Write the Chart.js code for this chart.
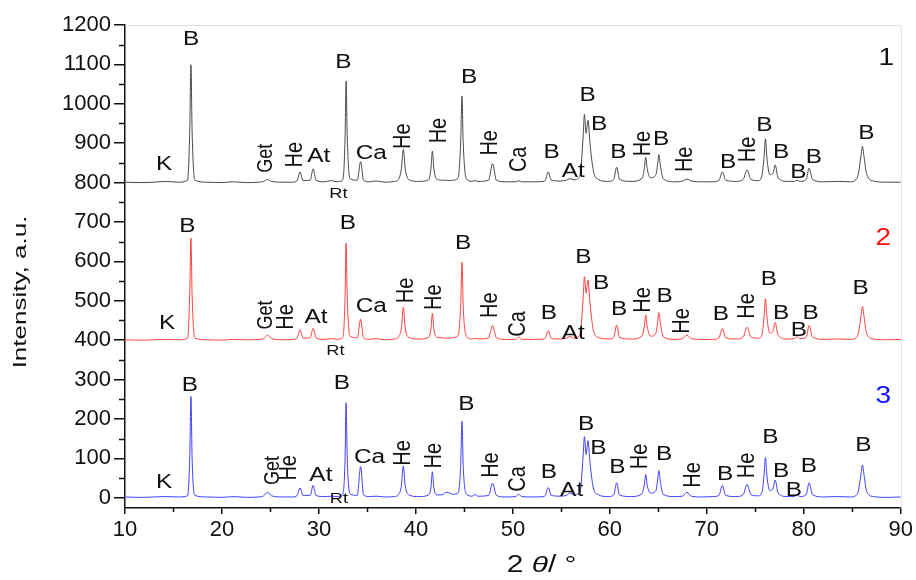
<!DOCTYPE html>
<html>
<head>
<meta charset="utf-8">
<script src="https://cdn.jsdelivr.net/npm/chart.js@4.4.1/dist/chart.umd.min.js"></script>
<style>
  html, body { margin: 0; padding: 0; background: #fff; }
  #wrap { width: 916px; height: 580px; position: relative; }
</style>
</head>
<body>
<div id="wrap"><canvas id="c" width="916" height="580"></canvas></div>
<script>
// ---- DATA ----
// 2θ sampling positions (degrees)
const theta = [
  10, 11.5, 13, 14.2, 15.5,
  16.45, 16.68, 16.8, 16.92, 17.2,
  18.5, 20, 21.2, 22.5, 23.8,
  24.3, 24.7, 25.1, 26.3, 27.3,
  27.75, 28.05, 28.35, 29.1, 29.4, 29.7,
  30.5, 31.3, 31.9, 32.3,
  32.5, 32.7, 32.8, 32.92, 33.2,
  33.95, 34.3, 34.6, 35.2, 35.9, 36.8, 37.8,
  38.2, 38.5, 38.7, 38.9, 39.3, 40.3,
  41.3, 41.55, 41.7, 41.85, 42.2,
  42.8, 43.1, 43.5, 43.8,
  44.35, 44.62, 44.75, 44.88, 45.2,
  45.8, 46.1, 46.4, 47.5, 47.9, 48.3,
  49.2, 50.3, 50.6, 50.9, 52.0, 53.2,
  53.35, 53.65, 53.95, 54.9, 55.5, 55.9, 56.3, 56.8,
  57.0, 57.25, 57.38, 57.55, 57.75, 57.95, 58.3, 58.8,
  59.8, 60.4, 60.7, 61.0, 62.2,
  63.3, 63.55, 63.7, 63.85, 64.2,
  64.75, 64.92, 65.05, 65.2, 65.5,
  66.6, 67.5, 67.95, 68.4, 69.5, 70.6,
  71.25, 71.6, 71.95, 73.0, 73.75, 74.15, 74.55,
  75.3, 75.7, 75.9, 76.05, 76.2, 76.5,
  76.85, 77.05, 77.35, 78.3,
  79.05, 79.3, 79.6, 80.25, 80.55, 80.9,
  82.0, 83.5, 84.8, 85.4,
  85.65, 85.9, 86.05, 86.2, 86.5, 87.2, 88.5, 90
];
// Sample 1 (offset +800)
const intensity1 = [
  801, 800, 801, 803, 801,
  806, 935, 1099, 930, 806,
  801, 800, 802, 800, 801,
  803, 808, 803, 801, 801,
  805, 827, 805, 806, 835, 806,
  802, 805, 802, 804,
  812, 920, 1058, 915, 810,
  806, 853, 806, 802, 804, 801, 803,
  808, 835, 884, 835, 807, 803,
  807, 835, 880, 835, 808,
  806, 806, 805, 806,
  812, 905, 1020, 900, 810,
  803, 805, 803, 806, 848, 806,
  802, 802, 805, 802, 802, 803,
  806, 827, 806, 804, 806, 810, 807, 812,
  830, 920, 973, 925, 958, 900, 830, 808,
  803, 808, 839, 808, 803,
  810, 835, 864, 835, 812,
  820, 845, 871, 845, 810,
  802, 804, 809, 804, 802, 802,
  806, 827, 806, 803, 808, 832, 808,
  805, 820, 865, 911, 862, 820,
  825, 845, 812, 803,
  803, 806, 803, 808, 837, 808,
  802, 803, 802, 808,
  825, 868, 892, 868, 820, 804, 801, 801
];
// Sample 2 (offset +400)
const intensity2 = [
  401, 400, 401, 402, 401,
  405, 520, 659, 515, 405,
  401, 400, 402, 401, 402,
  404, 413, 404, 401, 402,
  406, 427, 405, 406, 430, 406,
  402, 404, 402, 404,
  412, 515, 646, 510, 410,
  406, 453, 406, 402, 404, 401, 403,
  408, 430, 483, 430, 407, 403,
  407, 428, 468, 428, 407,
  406, 405, 405, 407,
  412, 490, 598, 485, 410,
  403, 405, 403, 406, 437, 406,
  402, 402, 408, 402, 402, 403,
  405, 424, 405, 403, 405, 409, 405, 410,
  425, 510, 561, 520, 552, 495, 425, 407,
  403, 407, 438, 407, 403,
  410, 435, 464, 435, 410,
  418, 445, 470, 445, 409,
  402, 404, 413, 404, 402, 402,
  406, 430, 406, 403, 408, 433, 408,
  405, 415, 460, 505, 458, 418,
  425, 445, 412, 403,
  404, 409, 404, 408, 437, 408,
  402, 403, 402, 406,
  420, 462, 486, 462, 415, 403, 401, 402
];
// Sample 3 (no offset)
const intensity3 = [
  2, 1, 2, 3, 2,
  5, 105, 257, 100, 6,
  2, 1, 3, 1, 2,
  5, 14, 5, 2, 2,
  6, 25, 6, 6, 31, 6,
  3, 4, 3, 5,
  12, 105, 241, 100, 10,
  6, 79, 7, 3, 4, 2, 3,
  8, 30, 81, 30, 7, 3,
  7, 26, 66, 26, 7,
  8, 14, 12, 9,
  12, 85, 194, 80, 10,
  4, 8, 4, 6, 37, 6,
  2, 3, 9, 3, 2, 3,
  6, 26, 6, 4, 6, 12, 8, 10,
  25, 110, 155, 110, 145, 90, 25, 8,
  3, 7, 38, 7, 3,
  10, 32, 59, 32, 12,
  18, 45, 69, 42, 9,
  3, 4, 14, 4, 2, 3,
  6, 31, 6, 3, 8, 34, 8,
  5, 15, 58, 102, 55, 18,
  25, 45, 12, 3,
  3, 8, 3, 8, 38, 8,
  2, 3, 2, 6,
  20, 60, 83, 60, 15, 3, 1, 2
];
const xTickValues = [10, 20, 30, 40, 50, 60, 70, 80, 90];
const yTickValues = [0, 100, 200, 300, 400, 500, 600, 700, 800, 900, 1000, 1100, 1200];
const xTitle = ['2 ', 'θ', '/ °'];
const yTitle = 'Intensity, a.u.';
const sampleNames = ['1', '2', '3'];

// Phase annotations: [text, 2θ, intensity, rotated]
const phases1 = [
  ['K',14.03,846,0],['B',16.82,1164,0],['Get',24.5,862,1],['He',27.57,871,1],['At',29.98,867,0],
  ['B',32.53,1105,0],['Rt',32.0,772,0],['Ca',35.4,874,0],['He',38.66,918,1],['He',42.45,932,1],
  ['B',45.48,1067,0],['He',47.62,901,1],['Ca',50.65,859,1],['B',54.0,876,0],['At',56.23,827,0],
  ['B',57.72,1020,0],['B',58.9,948,0],['B',60.89,877,0],['He',63.4,899,1],['B',65.3,910,0],
  ['He',67.78,859,1],['B',72.19,852,0],['He',74.32,884,1],['B',75.94,945,0],['B',77.66,876,0],
  ['B',79.43,825,0],['B',81.04,863,0],['B',86.45,925,0]
];
const phases2 = [
  ['K',14.34,443,0],['B',16.44,689,0],['Get',24.54,464,1],['He',26.6,459,1],['At',29.7,458,0],
  ['B',32.98,696,0],['Rt',31.7,373,0],['Ca',35.4,485,0],['He',39.0,526,1],['He',41.94,509,1],
  ['B',44.87,646,0],['He',47.62,489,1],['Ca',50.55,441,1],['B',53.72,468,0],['At',56.23,417,0],
  ['B',57.27,611,0],['B',59.1,544,0],['B',60.96,478,0],['He',63.4,502,1],['B',65.64,510,0],
  ['He',67.44,449,1],['B',71.46,464,0],['He',74.15,487,1],['B',76.4,555,0],['B',77.66,468,0],
  ['B',79.5,425,0],['B',80.7,468,0],['B',85.87,532,0]
];
const phases3 = [
  ['K',14.03,38,0],['B',16.69,285,0],['Get',25.23,69,1],['He',26.95,76,1],['At',30.2,56,0],
  ['B',32.36,291,0],['Rt',32.05,-2,0],['Ca',35.22,101,0],['He',38.66,114,1],['He',41.94,107,1],
  ['B',45.2,236,0],['He',47.73,83,1],['Ca',50.55,48,1],['B',53.72,63,0],['At',56.06,18,0],
  ['B',57.55,186,0],['B',58.82,126,0],['B',60.78,77,0],['He',63.13,105,1],['B',65.6,109,0],
  ['He',68.57,58,1],['B',71.9,58,0],['He',74.22,82,1],['B',76.56,152,0],['B',77.66,66,0],
  ['B',78.97,18,0],['B',80.52,79,0],['B',86.14,132,0]
];
// Sample number label anchors: [2θ, intensity]
const sampleLabelPos = [[88.52,1115],[88.21,657],[88.21,257]];

// ---- STYLE ----
const seriesColors = ['#4a4a4a', '#ff4040', '#4040ff'];
const numberColors = ['#111111', '#ff1010', '#1010ff'];
const FONT = '"Liberation Sans", Arial, sans-serif';
const HSCALE = 1.22;

function series(vals) { return theta.map((t, i) => ({ x: t, y: vals[i] })); }

const annotPlugin = {
  id: 'annot',
  afterDatasetsDraw(chart) {
    const ctx = chart.ctx, xs = chart.scales.x, ys = chart.scales.y, ca = chart.chartArea;
    ctx.save();
    // light frame (top, right)
    ctx.strokeStyle = '#dcdcdc';
    ctx.lineWidth = 1;
    ctx.beginPath();
    ctx.moveTo(ca.left, ca.top + 0.5); ctx.lineTo(ca.right + 0.5, ca.top + 0.5); ctx.lineTo(ca.right + 0.5, ca.bottom);
    ctx.stroke();
    // minor ticks
    ctx.strokeStyle = '#111'; ctx.lineWidth = 1.5;
    ctx.beginPath();
    for (let v = 50; v < 1200; v += 100) {
      const py = Math.round(ys.getPixelForValue(v)) + 0.5;
      ctx.moveTo(ca.left - 6, py); ctx.lineTo(ca.left, py);
    }
    for (let v = 15; v < 90; v += 10) {
      const px = Math.round(xs.getPixelForValue(v)) + 0.5;
      ctx.moveTo(px, ca.bottom); ctx.lineTo(px, ca.bottom + 4);
    }
    ctx.stroke();
    // phase labels
    ctx.fillStyle = '#111';
    ctx.textAlign = 'center'; ctx.textBaseline = 'middle';
    [phases1, phases2, phases3].forEach(list => {
      list.forEach(([t, x, y, r]) => {
        const px = xs.getPixelForValue(x), py = ys.getPixelForValue(y);
        let size = 20;
        if (t === 'Rt') size = 15;
        if (t === 'Get') size = 18;
        ctx.save();
        ctx.translate(px, py);
        ctx.scale(HSCALE, 1);
        if (r) ctx.rotate(-Math.PI / 2);
        ctx.font = size + 'px ' + FONT;
        ctx.fillText(t, 0, 0);
        ctx.restore();
      });
    });
    // sample numbers
    sampleLabelPos.forEach(([x, y], i) => {
      const px = xs.getPixelForValue(x), py = ys.getPixelForValue(y);
      ctx.save();
      ctx.translate(px, py); ctx.scale(HSCALE, 1);
      ctx.fillStyle = numberColors[i];
      ctx.font = '23px ' + FONT;
      ctx.fillText(sampleNames[i], 0, 0);
      ctx.restore();
    });
    // x title with italic theta
    ctx.save();
    ctx.fillStyle = '#111';
    ctx.textBaseline = 'middle'; ctx.textAlign = 'left';
    const cx = ca.left + (ca.right - ca.left) * 0.537, cy = 566;
    const parts = xTitle.map((s, i) => ({ s, f: (i === 1 ? 'italic ' : '') + '23px ' + FONT }));
    let w = 0;
    parts.forEach(p => { ctx.font = p.f; p.w = ctx.measureText(p.s).width; w += p.w; });
    ctx.translate(cx, cy); ctx.scale(1.3, 1);
    let xx = -w / 2;
    parts.forEach(p => { ctx.font = p.f; ctx.fillText(p.s, xx, 0); xx += p.w; });
    ctx.restore();
    // y title (condensed, as in the reference)
    ctx.save();
    ctx.fillStyle = '#111';
    ctx.textAlign = 'center'; ctx.textBaseline = 'middle';
    ctx.translate(21, 292);
    ctx.scale(0.72, 1);
    ctx.rotate(-Math.PI / 2);
    ctx.font = '26px ' + FONT;
    ctx.fillText(yTitle, 0, 0);
    ctx.restore();
    ctx.restore();
  }
};

new Chart(document.getElementById('c'), {
  type: 'line',
  data: {
    datasets: [intensity1, intensity2, intensity3].map((d, i) => ({
      label: sampleNames[i],
      data: series(d),
      borderColor: seriesColors[i],
      borderWidth: 1,
      pointRadius: 0,
      fill: false,
      cubicInterpolationMode: 'monotone'
    }))
  },
  options: {
    responsive: false,
    animation: false,
    events: [],
    layout: { padding: { top: 25, right: 15, left: 0, bottom: 0 } },
    plugins: { legend: { display: false }, tooltip: { enabled: false } },
    scales: {
      x: {
        type: 'linear', min: 10, max: 90,
        afterBuildTicks: s => { s.ticks = xTickValues.map(v => ({ value: v })); },
        afterFit: s => { s.height = 72; },
        grid: { drawOnChartArea: false, drawTicks: true, tickLength: 6, color: '#111', lineWidth: 1.5 },
        border: { display: true, color: '#111', width: 1.5 },
        ticks: { color: '#111', font: { family: FONT, size: 22 }, padding: 3, maxRotation: 0, autoSkip: false,
                 callback: v => String(v) },
        title: { display: false }
      },
      y: {
        type: 'linear', min: -26, max: 1200,
        afterBuildTicks: s => { s.ticks = yTickValues.map(v => ({ value: v })); },
        afterFit: s => { s.width = 125; },
        grid: { drawOnChartArea: false, drawTicks: true, tickLength: 11, color: '#111', lineWidth: 1.5 },
        border: { display: true, color: '#111', width: 1.5 },
        ticks: { color: '#111', font: { family: FONT, size: 22 }, padding: 3, autoSkip: false,
                 callback: v => String(v) },
        title: { display: false }
      }
    }
  },
  plugins: [annotPlugin]
});
</script>
</body>
</html>
